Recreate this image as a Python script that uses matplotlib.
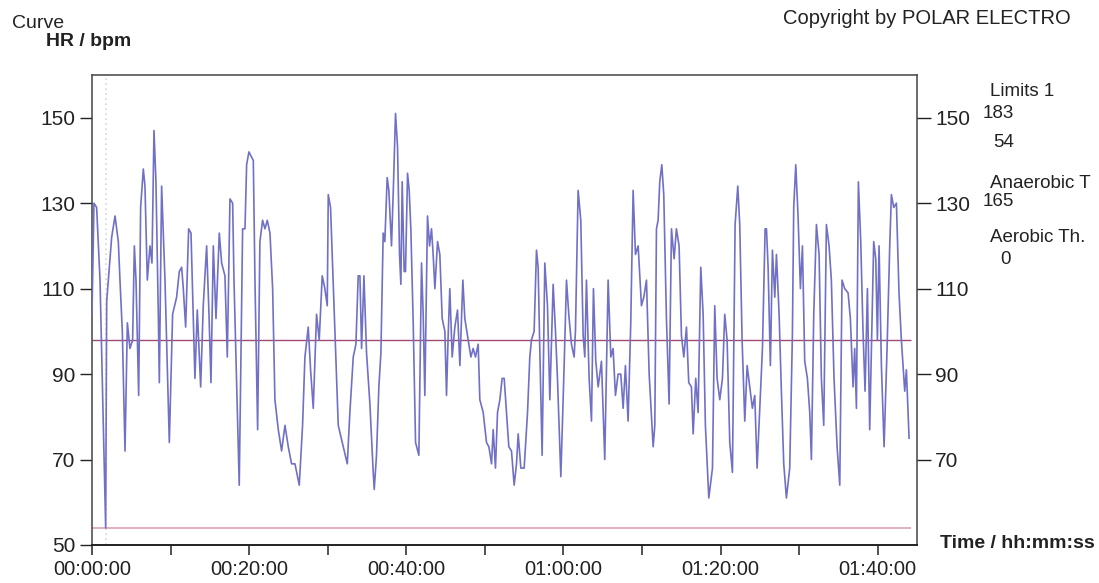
import matplotlib
matplotlib.use("Agg")
import matplotlib.pyplot as plt
from matplotlib.ticker import FuncFormatter, MultipleLocator

plt.rcParams["font.family"] = ["Liberation Sans", "DejaVu Sans"]

# heart rate samples (time in minutes, bpm)
time_min = [
    0.0, 0.25, 0.59, 1.02, 1.74, 1.87, 2.08, 2.50, 2.93, 3.35, 3.56, 3.86, 4.20, 4.50,
    4.83, 5.17, 5.39, 5.60, 5.94, 6.19, 6.53, 6.74, 7.04, 7.38, 7.63, 7.89, 8.14, 8.44,
    8.57, 8.86, 9.29, 9.84, 10.26, 10.77, 11.11, 11.41, 11.62, 11.92, 12.30, 12.60,
    13.10, 13.40, 13.83, 14.16, 14.59, 14.89, 15.14, 15.44, 15.78, 16.20, 16.50, 16.92,
    17.22, 17.56, 17.90, 18.07, 18.74, 19.17, 19.47, 19.68, 19.97, 20.53, 20.74, 21.08,
    21.37, 21.71, 22.01, 22.31, 22.65, 22.99, 23.28, 23.71, 24.13, 24.56, 24.98, 25.40,
    25.83, 26.38, 26.80, 27.10, 27.52, 27.82, 28.16, 28.58, 28.92, 29.30, 29.64, 29.94,
    30.07, 30.36, 31.34, 31.98, 32.49, 32.82, 33.25, 33.59, 33.88, 34.10, 34.31, 34.61,
    34.94, 35.37, 35.79, 35.92, 36.21, 36.51, 36.77, 37.06, 37.27, 37.57, 37.78, 38.12,
    38.38, 38.63, 38.89, 39.14, 39.31, 39.48, 39.73, 39.90, 40.16, 40.37, 40.58, 40.88,
    41.18, 41.60, 41.94, 42.15, 42.36, 42.70, 42.96, 43.21, 43.42, 43.64, 43.98, 44.27,
    44.57, 44.91, 45.12, 45.33, 45.54, 45.84, 46.18, 46.52, 46.82, 47.20, 47.45, 47.88,
    48.22, 48.51, 48.81, 49.15, 49.36, 49.79, 50.21, 50.51, 50.85, 51.06, 51.35, 51.61,
    51.91, 52.20, 52.46, 52.75, 53.05, 53.39, 53.73, 54.03, 54.24, 54.58, 55.00, 55.43,
    55.72, 55.93, 56.27, 56.57, 56.78, 56.99, 57.29, 57.63, 57.97, 58.27, 58.69, 58.99,
    59.24, 59.67, 60.09, 60.39, 60.68, 61.02, 61.36, 61.53, 61.87, 62.21, 62.51, 62.72,
    62.93, 63.27, 63.57, 63.82, 64.12, 64.42, 64.84, 65.26, 65.69, 66.03, 66.32, 66.62,
    66.96, 67.30, 67.60, 67.89, 68.23, 68.57, 68.87, 69.17, 69.51, 69.93, 70.23, 70.57,
    70.91, 71.42, 71.63, 71.84, 72.05, 72.26, 72.52, 72.77, 73.11, 73.45, 73.75, 74.09,
    74.38, 74.72, 75.02, 75.32, 75.66, 75.95, 76.29, 76.51, 76.84, 77.14, 77.48, 77.78,
    78.07, 78.50, 78.97, 79.26, 79.56, 79.90, 80.24, 80.53, 80.83, 81.17, 81.51, 81.85,
    82.19, 82.44, 82.74, 83.08, 83.38, 83.71, 84.05, 84.35, 84.65, 84.99, 85.33, 85.67,
    85.84, 86.05, 86.34, 86.60, 86.90, 87.11, 87.45, 87.74, 88.04, 88.38, 88.80, 89.14,
    89.31, 89.57, 89.86, 90.16, 90.42, 90.71, 91.05, 91.35, 91.56, 91.86, 92.20, 92.54,
    92.83, 93.13, 93.47, 93.81, 94.10, 94.44, 94.83, 95.17, 95.46, 95.80, 96.23, 96.52,
    96.86, 97.07, 97.29, 97.54, 97.84, 98.13, 98.39, 98.69, 98.98, 99.28, 99.49, 99.75,
    99.96, 100.17, 100.47, 100.81, 101.19, 101.53, 101.74, 102.04, 102.38, 102.71,
    103.01, 103.44, 103.65, 103.99,
]
hr_bpm = [
    104, 130, 129, 112, 54, 107, 112, 122, 127, 121, 112, 100, 72, 102,
    96, 98, 120, 112, 85, 129, 138, 134, 112, 120, 116, 147, 135, 104,
    88, 134, 112, 74, 104, 108, 114, 115, 110, 101, 124, 123,
    89, 105, 87, 106, 120, 104, 88, 120, 103, 123, 116, 113,
    94, 131, 130, 112, 64, 124, 124, 139, 142, 140, 112, 77,
    121, 126, 124, 126, 123, 110, 84, 77, 72, 78, 73, 69,
    69, 64, 78, 94, 101, 91, 82, 104, 98, 113, 110, 106,
    132, 129, 78, 73, 69, 81, 94, 97, 113, 113, 96, 113,
    95, 83, 67, 63, 71, 87, 95, 123, 121, 136, 133, 120,
    135, 151, 143, 118, 111, 135, 114, 114, 137, 133, 124, 102,
    74, 71, 116, 104, 85, 127, 120, 124, 118, 110, 121, 118,
    103, 100, 85, 99, 110, 94, 101, 105, 92, 112, 103, 98,
    94, 96, 94, 97, 84, 81, 74, 73, 69, 77, 68, 81,
    84, 89, 89, 81, 73, 72, 64, 69, 76, 68, 68, 81,
    94, 98, 100, 119, 115, 96, 71, 116, 106, 84, 111, 100,
    89, 66, 92, 112, 104, 97, 94, 100, 133, 126, 99, 94,
    112, 89, 79, 110, 93, 87, 93, 70, 112, 94, 96, 85,
    90, 90, 82, 92, 79, 102, 133, 118, 120, 106, 108, 112,
    90, 73, 78, 124, 126, 135, 139, 132, 103, 83, 124, 117,
    124, 120, 99, 94, 101, 88, 87, 76, 89, 81, 115, 104,
    78, 61, 68, 106, 89, 84, 89, 104, 98, 74, 67, 125,
    134, 125, 98, 79, 92, 87, 82, 85, 68, 82, 96, 124,
    124, 115, 92, 119, 108, 118, 104, 86, 69, 61, 68, 99,
    129, 139, 127, 110, 120, 93, 89, 81, 70, 104, 125, 118,
    89, 78, 125, 120, 112, 89, 73, 64, 112, 110, 109, 103,
    87, 96, 82, 135, 121, 100, 86, 110, 77, 103, 121, 117,
    98, 120, 92, 73, 96, 120, 132, 129, 130, 109,
    98, 86, 91, 75,
]

avg_hr = 98
lower_limit = 54
lap_mark_min = 1.8

side_labels = ["Limits 1", "183", "54", "Anaerobic T", "165", "Aerobic Th.", "0"]
x_ticks_min = [0, 20, 40, 60, 80, 100]
y_ticks = [50, 70, 90, 110, 130, 150]
y_ticks_right = [70, 90, 110, 130, 150]

W, H = 1099, 583


def px(x, y):
    return x / W, 1 - y / H


def hms(v, pos=None):
    s = int(round(v * 60))
    return "%02d:%02d:%02d" % (s // 3600, (s % 3600) // 60, s % 60)


fig = plt.figure(figsize=(W / 100, H / 100), dpi=100)
ax = fig.add_axes([92 / W, 1 - 545 / H, (917 - 92) / W, (545 - 75) / H])

ax.plot(time_min, hr_bpm, color="#7070c6", lw=1.2, zorder=3)
ax.hlines(avg_hr, 0, time_min[-1] + 0.2, color="#a24a72", lw=1.0, zorder=2)
ax.hlines(lower_limit, 0, time_min[-1] + 0.2, color="#dba3b6", lw=1.2, zorder=2)
ax.axvline(lap_mark_min, color="#d6d6d6", lw=1.2, ls=(0, (1, 2)), zorder=1)

ax.set_xlim(0, 105)
ax.set_ylim(50, 160)
ax.set_xticks(x_ticks_min)
ax.xaxis.set_minor_locator(MultipleLocator(10))
ax.xaxis.set_major_formatter(FuncFormatter(hms))
ax.set_yticks(y_ticks)

for sp in ax.spines.values():
    sp.set_color("#444444")
    sp.set_linewidth(1.1)
ax.spines["bottom"].set_color("#222222")
ax.spines["bottom"].set_linewidth(1.4)

ax.tick_params(axis="x", which="both", direction="out", length=7, width=1.1,
               pad=4, labelsize=14.5, colors="#222222")
ax.tick_params(axis="y", direction="out", length=9, width=1.0, pad=3,
               labelsize=15, colors="#222222")

ax2 = ax.twinx()
ax2.set_ylim(ax.get_ylim())
ax2.set_yticks(y_ticks_right)
ax2.tick_params(axis="y", direction="out", length=10, width=1.0, pad=3,
                labelsize=15, colors="#222222")
for sp in ax2.spines.values():
    sp.set_visible(False)

# header texts
fig.text(*px(12, 23), "Curve", fontsize=14, va="center", ha="left", color="#222222")
fig.text(*px(46, 41), "HR / bpm", fontsize=14, fontweight="bold", va="center",
         ha="left", color="#222222")
fig.text(*px(783, 18), "Copyright by POLAR ELECTRO", fontsize=14.5, va="center",
         ha="left", color="#222222")
fig.text(*px(940, 543), "Time / hh:mm:ss", fontsize=14, fontweight="bold",
         va="center", ha="left", color="#222222")

# limits block on the right
side_pos = [(990, 92), (983, 114), (993, 143), (990, 183), (983, 202), (990, 237), (1000, 259)]
for (x, y), s in zip(side_pos, side_labels):
    fig.text(*px(x, y), s, fontsize=13.5, va="center", ha="left", color="#222222")

fig.savefig("out.png", dpi=100)
